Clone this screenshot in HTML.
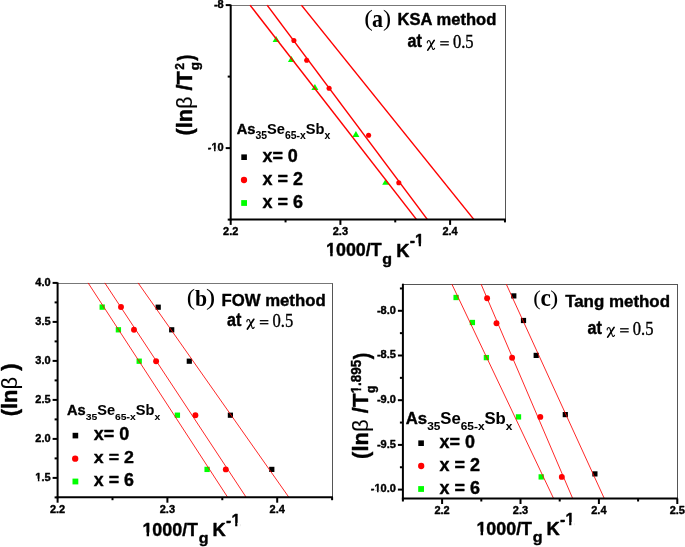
<!DOCTYPE html>
<html><head><meta charset="utf-8"><style>
html,body{margin:0;padding:0;background:#fff;overflow:hidden;}
svg{display:block}
</style></head><body>
<svg width="685" height="547" viewBox="0 0 685 547" style="will-change:transform">
<rect width="685" height="547" fill="#fff"/>
<line x1="230.70" y1="5.50" x2="506.00" y2="5.50" stroke="#777" stroke-width="1"/>
<line x1="505.50" y1="5.50" x2="505.50" y2="219.40" stroke="#555" stroke-width="1"/>
<polygon points="276.10,35.90 279.60,41.90 272.60,41.90" fill="#00ff00"/>
<polygon points="291.40,55.90 294.90,61.90 287.90,61.90" fill="#00ff00"/>
<polygon points="314.90,84.10 318.40,90.10 311.40,90.10" fill="#00ff00"/>
<polygon points="355.90,131.00 359.40,137.00 352.40,137.00" fill="#00ff00"/>
<polygon points="385.70,178.80 389.20,184.80 382.20,184.80" fill="#00ff00"/>
<circle cx="293.90" cy="40.50" r="2.55" fill="#ff0000"/>
<circle cx="306.70" cy="60.30" r="2.55" fill="#ff0000"/>
<circle cx="329.10" cy="88.20" r="2.55" fill="#ff0000"/>
<circle cx="368.60" cy="135.30" r="2.55" fill="#ff0000"/>
<circle cx="398.80" cy="182.80" r="2.55" fill="#ff0000"/>
<line x1="250.00" y1="5.10" x2="416.40" y2="219.40" stroke="#ff0000" stroke-width="1.5"/>
<line x1="267.10" y1="5.10" x2="427.30" y2="219.40" stroke="#ff0000" stroke-width="1.5"/>
<line x1="301.40" y1="5.10" x2="473.80" y2="219.40" stroke="#ff0000" stroke-width="1.5"/>
<line x1="230.70" y1="219.40" x2="230.70" y2="224.90" stroke="#000000" stroke-width="2"/>
<line x1="285.55" y1="219.40" x2="285.55" y2="222.40" stroke="#000000" stroke-width="2"/>
<line x1="340.40" y1="219.40" x2="340.40" y2="224.90" stroke="#000000" stroke-width="2"/>
<line x1="395.25" y1="219.40" x2="395.25" y2="222.40" stroke="#000000" stroke-width="2"/>
<line x1="450.10" y1="219.40" x2="450.10" y2="224.90" stroke="#000000" stroke-width="2"/>
<line x1="504.95" y1="219.40" x2="504.95" y2="222.40" stroke="#000000" stroke-width="2"/>
<line x1="230.70" y1="5.10" x2="225.70" y2="5.10" stroke="#000000" stroke-width="2"/>
<line x1="230.70" y1="76.60" x2="227.70" y2="76.60" stroke="#000000" stroke-width="2"/>
<line x1="230.70" y1="148.10" x2="225.70" y2="148.10" stroke="#000000" stroke-width="2"/>
<line x1="230.70" y1="219.60" x2="227.70" y2="219.60" stroke="#000000" stroke-width="2"/>
<line x1="230.70" y1="4.60" x2="230.70" y2="220.40" stroke="#000000" stroke-width="2"/>
<line x1="229.70" y1="219.40" x2="505.80" y2="219.40" stroke="#000000" stroke-width="2"/>
<g transform="translate(223.05,235.40) scale(0.1100)"><text font-size="100" font-family="Liberation Sans" font-weight="bold" stroke="#000" stroke-width="0.4" vector-effect="non-scaling-stroke" stroke-linejoin="round">2.2</text></g>
<g transform="translate(332.75,235.40) scale(0.1100)"><text font-size="100" font-family="Liberation Sans" font-weight="bold" stroke="#000" stroke-width="0.4" vector-effect="non-scaling-stroke" stroke-linejoin="round">2.3</text></g>
<g transform="translate(442.45,235.40) scale(0.1100)"><text font-size="100" font-family="Liberation Sans" font-weight="bold" stroke="#000" stroke-width="0.4" vector-effect="non-scaling-stroke" stroke-linejoin="round">2.4</text></g>
<g transform="translate(213.92,7.90) scale(0.1100)"><text font-size="100" font-family="Liberation Sans" font-weight="bold" stroke="#000" stroke-width="0.4" vector-effect="non-scaling-stroke" stroke-linejoin="round">-8</text></g>
<g transform="translate(207.80,150.90) scale(0.1100)"><text font-size="100" font-family="Liberation Sans" font-weight="bold" stroke="#000" stroke-width="0.4" vector-effect="non-scaling-stroke" stroke-linejoin="round">-10</text><rect x="25.30" y="-18" width="31.34" height="29" fill="#fff"/><rect x="70.36" y="-18" width="19.94" height="29" fill="#fff"/></g>
<g transform="translate(364.269,26.257) scale(0.25769,0.22111)"><text font-size="100" font-family="Liberation Serif">(</text></g>
<g transform="translate(372.040,26.652) scale(0.22000,0.24792)"><text font-size="100" font-family="Liberation Serif" font-weight="bold">a</text></g>
<g transform="translate(382.973,26.257) scale(0.24231,0.22111)"><text font-size="100" font-family="Liberation Serif">)</text></g>
<g transform="translate(397.540,24.739) scale(0.16569,0.16081)"><text font-size="100" font-family="Liberation Sans" font-weight="bold" stroke="#000" stroke-width="0.4" vector-effect="non-scaling-stroke" stroke-linejoin="round">KSA method</text></g>
<g transform="translate(407.516,46.924) scale(0.16118,0.17576)"><text font-size="100" font-family="Liberation Sans" font-weight="bold" stroke="#000" stroke-width="0.4" vector-effect="non-scaling-stroke" stroke-linejoin="round">at</text></g>
<g transform="translate(0.00,0.00)" fill="none" stroke="#000" stroke-linecap="round"><path d="M427.3,42.9 C427.0,41.0 428.6,39.9 429.8,41.1 L432.6,48.9 C433.0,49.9 434.0,49.6 434.6,48.3" stroke-width="1.1"/><path d="M434.2,40.4 L427.8,50.1" stroke-width="1.7"/></g>
<rect x="440.20" y="41.15" width="8.6" height="1.3" fill="#000"/>
<rect x="440.20" y="44.15" width="8.6" height="1.3" fill="#000"/>
<g transform="translate(452.937,47.644) scale(0.16581,0.17794)"><text font-size="100" font-family="Liberation Serif" stroke="#000" stroke-width="0.35" vector-effect="non-scaling-stroke">0.5</text></g>
<g transform="translate(236.760,134.148) scale(0.14661,0.14312)"><text font-size="100" font-family="Liberation Sans" font-weight="bold" stroke="#000" stroke-width="0.4" vector-effect="non-scaling-stroke" stroke-linejoin="round">As<tspan font-size="71" dy="36">35</tspan><tspan dy="-36">Se</tspan><tspan font-size="71" dy="36">65-x</tspan><tspan dy="-36">Sb</tspan><tspan font-size="71" dy="36">x</tspan></text></g>
<g transform="translate(262.420,161.811) scale(0.17969,0.18873)"><text font-size="100" font-family="Liberation Sans" font-weight="bold" stroke="#000" stroke-width="0.4" vector-effect="non-scaling-stroke" stroke-linejoin="round">x= 0</text></g>
<rect x="241.30" y="154.40" width="5.6" height="5.6" fill="#000000"/>
<g transform="translate(262.420,184.600) scale(0.18000,0.18143)"><text font-size="100" font-family="Liberation Sans" font-weight="bold" stroke="#000" stroke-width="0.4" vector-effect="non-scaling-stroke" stroke-linejoin="round">x = 2</text></g>
<circle cx="244.00" cy="180.00" r="3.15" fill="#ff0000"/>
<g transform="translate(262.420,207.515) scale(0.18000,0.18451)"><text font-size="100" font-family="Liberation Sans" font-weight="bold" stroke="#000" stroke-width="0.4" vector-effect="non-scaling-stroke" stroke-linejoin="round">x = 6</text></g>
<rect x="241.20" y="200.10" width="5.8" height="5.8" fill="#00ff00"/>
<g transform="translate(326.050,256.319) scale(0.17855,0.18108)"><text font-size="100" font-family="Liberation Sans" font-weight="bold" stroke="#000" stroke-width="0.4" vector-effect="non-scaling-stroke" stroke-linejoin="round">1000/T</text><rect x="-8.00" y="-18" width="31.34" height="29" fill="#fff"/><rect x="37.06" y="-18" width="19.94" height="29" fill="#fff"/></g>
<g transform="translate(382.260,263.552) scale(0.16000,0.15467)"><text font-size="100" font-family="Liberation Sans" font-weight="bold" stroke="#000" stroke-width="0.4" vector-effect="non-scaling-stroke" stroke-linejoin="round">g</text></g>
<g transform="translate(396.220,256.600) scale(0.18281,0.18986)"><text font-size="100" font-family="Liberation Sans" font-weight="bold" stroke="#000" stroke-width="0.4" vector-effect="non-scaling-stroke" stroke-linejoin="round">K</text></g>
<g transform="translate(409.658,246.400) scale(0.16061,0.16377)"><text font-size="100" font-family="Liberation Sans" font-weight="bold" stroke="#000" stroke-width="0.4" vector-effect="non-scaling-stroke" stroke-linejoin="round">-1</text><rect x="25.30" y="-18" width="31.34" height="29" fill="#fff"/><rect x="70.36" y="-18" width="19.94" height="29" fill="#fff"/></g>
<g transform="translate(192.119,135.384) rotate(-90) scale(0.21690,0.22766)"><text font-size="100" font-family="Liberation Sans" font-weight="bold" stroke="#000" stroke-width="0.4" vector-effect="non-scaling-stroke" stroke-linejoin="round">(ln<tspan font-weight="normal">β</tspan> /T</text></g>
<g transform="translate(183.600,69.861) rotate(-90) scale(0.12041,0.12429)"><text font-size="100" font-family="Liberation Sans" font-weight="bold" stroke="#000" stroke-width="0.4" vector-effect="non-scaling-stroke" stroke-linejoin="round">2</text></g>
<g transform="translate(199.112,70.344) rotate(-90) scale(0.13600,0.12800)"><text font-size="100" font-family="Liberation Sans" font-weight="bold" stroke="#000" stroke-width="0.4" vector-effect="non-scaling-stroke" stroke-linejoin="round">g</text></g>
<g transform="translate(192.976,60.800) rotate(-90) scale(0.18214,0.22021)"><text font-size="100" font-family="Liberation Sans" font-weight="bold" stroke="#000" stroke-width="0.4" vector-effect="non-scaling-stroke" stroke-linejoin="round">)</text></g>
<line x1="57.60" y1="283.50" x2="333.00" y2="283.50" stroke="#777" stroke-width="1"/>
<line x1="332.50" y1="283.50" x2="332.50" y2="497.20" stroke="#555" stroke-width="1"/>
<rect x="99.55" y="304.45" width="5.3" height="5.3" fill="#00ff00"/>
<rect x="115.75" y="327.15" width="5.3" height="5.3" fill="#00ff00"/>
<rect x="136.55" y="358.55" width="5.3" height="5.3" fill="#00ff00"/>
<rect x="174.75" y="412.55" width="5.3" height="5.3" fill="#00ff00"/>
<rect x="204.45" y="466.75" width="5.3" height="5.3" fill="#00ff00"/>
<circle cx="121.00" cy="307.00" r="2.95" fill="#ff0000"/>
<circle cx="134.00" cy="329.80" r="2.95" fill="#ff0000"/>
<circle cx="156.10" cy="361.20" r="2.95" fill="#ff0000"/>
<circle cx="195.40" cy="415.20" r="2.95" fill="#ff0000"/>
<circle cx="225.80" cy="469.40" r="2.95" fill="#ff0000"/>
<rect x="155.60" y="304.60" width="5.2" height="5.2" fill="#000000"/>
<rect x="169.10" y="327.20" width="5.2" height="5.2" fill="#000000"/>
<rect x="186.70" y="358.60" width="5.2" height="5.2" fill="#000000"/>
<rect x="227.80" y="412.60" width="5.2" height="5.2" fill="#000000"/>
<rect x="269.20" y="466.80" width="5.2" height="5.2" fill="#000000"/>
<line x1="88.10" y1="282.90" x2="227.60" y2="497.20" stroke="#ff0000" stroke-width="0.85"/>
<line x1="104.80" y1="282.90" x2="246.10" y2="497.20" stroke="#ff0000" stroke-width="0.85"/>
<line x1="138.10" y1="282.90" x2="288.80" y2="497.20" stroke="#ff0000" stroke-width="0.85"/>
<line x1="57.60" y1="497.20" x2="57.60" y2="502.70" stroke="#000000" stroke-width="2"/>
<line x1="112.50" y1="497.20" x2="112.50" y2="500.20" stroke="#000000" stroke-width="2"/>
<line x1="167.40" y1="497.20" x2="167.40" y2="502.70" stroke="#000000" stroke-width="2"/>
<line x1="222.30" y1="497.20" x2="222.30" y2="500.20" stroke="#000000" stroke-width="2"/>
<line x1="277.20" y1="497.20" x2="277.20" y2="502.70" stroke="#000000" stroke-width="2"/>
<line x1="332.10" y1="497.20" x2="332.10" y2="500.20" stroke="#000000" stroke-width="2"/>
<line x1="57.60" y1="282.90" x2="52.60" y2="282.90" stroke="#000000" stroke-width="2"/>
<line x1="57.60" y1="302.40" x2="54.60" y2="302.40" stroke="#000000" stroke-width="2"/>
<line x1="57.60" y1="321.90" x2="52.60" y2="321.90" stroke="#000000" stroke-width="2"/>
<line x1="57.60" y1="341.40" x2="54.60" y2="341.40" stroke="#000000" stroke-width="2"/>
<line x1="57.60" y1="360.90" x2="52.60" y2="360.90" stroke="#000000" stroke-width="2"/>
<line x1="57.60" y1="380.40" x2="54.60" y2="380.40" stroke="#000000" stroke-width="2"/>
<line x1="57.60" y1="399.90" x2="52.60" y2="399.90" stroke="#000000" stroke-width="2"/>
<line x1="57.60" y1="419.40" x2="54.60" y2="419.40" stroke="#000000" stroke-width="2"/>
<line x1="57.60" y1="438.90" x2="52.60" y2="438.90" stroke="#000000" stroke-width="2"/>
<line x1="57.60" y1="458.40" x2="54.60" y2="458.40" stroke="#000000" stroke-width="2"/>
<line x1="57.60" y1="477.90" x2="52.60" y2="477.90" stroke="#000000" stroke-width="2"/>
<line x1="57.60" y1="497.40" x2="54.60" y2="497.40" stroke="#000000" stroke-width="2"/>
<line x1="57.60" y1="282.40" x2="57.60" y2="498.20" stroke="#000000" stroke-width="2"/>
<line x1="56.60" y1="497.20" x2="332.90" y2="497.20" stroke="#000000" stroke-width="2"/>
<g transform="translate(49.95,513.20) scale(0.1100)"><text font-size="100" font-family="Liberation Sans" font-weight="bold" stroke="#000" stroke-width="0.4" vector-effect="non-scaling-stroke" stroke-linejoin="round">2.2</text></g>
<g transform="translate(159.75,513.20) scale(0.1100)"><text font-size="100" font-family="Liberation Sans" font-weight="bold" stroke="#000" stroke-width="0.4" vector-effect="non-scaling-stroke" stroke-linejoin="round">2.3</text></g>
<g transform="translate(269.55,513.20) scale(0.1100)"><text font-size="100" font-family="Liberation Sans" font-weight="bold" stroke="#000" stroke-width="0.4" vector-effect="non-scaling-stroke" stroke-linejoin="round">2.4</text></g>
<g transform="translate(35.31,285.70) scale(0.1100)"><text font-size="100" font-family="Liberation Sans" font-weight="bold" stroke="#000" stroke-width="0.4" vector-effect="non-scaling-stroke" stroke-linejoin="round">4.0</text></g>
<g transform="translate(35.31,324.70) scale(0.1100)"><text font-size="100" font-family="Liberation Sans" font-weight="bold" stroke="#000" stroke-width="0.4" vector-effect="non-scaling-stroke" stroke-linejoin="round">3.5</text></g>
<g transform="translate(35.31,363.70) scale(0.1100)"><text font-size="100" font-family="Liberation Sans" font-weight="bold" stroke="#000" stroke-width="0.4" vector-effect="non-scaling-stroke" stroke-linejoin="round">3.0</text></g>
<g transform="translate(35.31,402.70) scale(0.1100)"><text font-size="100" font-family="Liberation Sans" font-weight="bold" stroke="#000" stroke-width="0.4" vector-effect="non-scaling-stroke" stroke-linejoin="round">2.5</text></g>
<g transform="translate(35.31,441.70) scale(0.1100)"><text font-size="100" font-family="Liberation Sans" font-weight="bold" stroke="#000" stroke-width="0.4" vector-effect="non-scaling-stroke" stroke-linejoin="round">2.0</text></g>
<g transform="translate(35.31,480.70) scale(0.1100)"><text font-size="100" font-family="Liberation Sans" font-weight="bold" stroke="#000" stroke-width="0.4" vector-effect="non-scaling-stroke" stroke-linejoin="round">1.5</text><rect x="-8.00" y="-18" width="31.34" height="29" fill="#fff"/><rect x="37.06" y="-18" width="19.94" height="29" fill="#fff"/></g>
<g transform="translate(186.700,305.410) scale(0.25000,0.22333)"><text font-size="100" font-family="Liberation Serif">(</text></g>
<g transform="translate(194.982,306.377) scale(0.21765,0.22286)"><text font-size="100" font-family="Liberation Serif" font-weight="bold">b</text></g>
<g transform="translate(205.969,305.410) scale(0.27692,0.22333)"><text font-size="100" font-family="Liberation Serif">)</text></g>
<g transform="translate(221.426,305.627) scale(0.16776,0.17297)"><text font-size="100" font-family="Liberation Sans" font-weight="bold" stroke="#000" stroke-width="0.4" vector-effect="non-scaling-stroke" stroke-linejoin="round">FOW method</text></g>
<g transform="translate(227.116,325.824) scale(0.16118,0.17576)"><text font-size="100" font-family="Liberation Sans" font-weight="bold" stroke="#000" stroke-width="0.4" vector-effect="non-scaling-stroke" stroke-linejoin="round">at</text></g>
<g transform="translate(-180.40,278.90)" fill="none" stroke="#000" stroke-linecap="round"><path d="M427.3,42.9 C427.0,41.0 428.6,39.9 429.8,41.1 L432.6,48.9 C433.0,49.9 434.0,49.6 434.6,48.3" stroke-width="1.1"/><path d="M434.2,40.4 L427.8,50.1" stroke-width="1.7"/></g>
<rect x="259.80" y="320.05" width="8.6" height="1.3" fill="#000"/>
<rect x="259.80" y="323.05" width="8.6" height="1.3" fill="#000"/>
<g transform="translate(272.537,326.544) scale(0.16581,0.17794)"><text font-size="100" font-family="Liberation Serif" stroke="#000" stroke-width="0.35" vector-effect="non-scaling-stroke">0.5</text></g>
<g transform="translate(66.962,415.446) scale(0.14614,0.13761)"><text font-size="100" font-family="Liberation Sans" font-weight="bold" stroke="#000" stroke-width="0.4" vector-effect="non-scaling-stroke" stroke-linejoin="round">As<tspan font-size="71" dy="36">35</tspan><tspan dy="-36">Se</tspan><tspan font-size="71" dy="36">65-x</tspan><tspan dy="-36">Sb</tspan><tspan font-size="71" dy="36">x</tspan></text></g>
<g transform="translate(93.820,439.825) scale(0.17969,0.17465)"><text font-size="100" font-family="Liberation Sans" font-weight="bold" stroke="#000" stroke-width="0.4" vector-effect="non-scaling-stroke" stroke-linejoin="round">x= 0</text></g>
<rect x="72.60" y="432.80" width="5.6" height="5.6" fill="#000000"/>
<g transform="translate(93.822,462.600) scale(0.17818,0.16714)"><text font-size="100" font-family="Liberation Sans" font-weight="bold" stroke="#000" stroke-width="0.4" vector-effect="non-scaling-stroke" stroke-linejoin="round">x = 2</text></g>
<circle cx="75.20" cy="458.70" r="3.15" fill="#ff0000"/>
<g transform="translate(93.822,485.821) scale(0.17818,0.17887)"><text font-size="100" font-family="Liberation Sans" font-weight="bold" stroke="#000" stroke-width="0.4" vector-effect="non-scaling-stroke" stroke-linejoin="round">x = 6</text></g>
<rect x="72.50" y="478.60" width="5.8" height="5.8" fill="#00ff00"/>
<g transform="translate(142.450,535.719) scale(0.17855,0.18108)"><text font-size="100" font-family="Liberation Sans" font-weight="bold" stroke="#000" stroke-width="0.4" vector-effect="non-scaling-stroke" stroke-linejoin="round">1000/T</text><rect x="-8.00" y="-18" width="31.34" height="29" fill="#fff"/><rect x="37.06" y="-18" width="19.94" height="29" fill="#fff"/></g>
<g transform="translate(198.660,542.952) scale(0.16000,0.15467)"><text font-size="100" font-family="Liberation Sans" font-weight="bold" stroke="#000" stroke-width="0.4" vector-effect="non-scaling-stroke" stroke-linejoin="round">g</text></g>
<g transform="translate(212.620,536.000) scale(0.18281,0.18986)"><text font-size="100" font-family="Liberation Sans" font-weight="bold" stroke="#000" stroke-width="0.4" vector-effect="non-scaling-stroke" stroke-linejoin="round">K</text></g>
<g transform="translate(226.058,525.800) scale(0.16061,0.16377)"><text font-size="100" font-family="Liberation Sans" font-weight="bold" stroke="#000" stroke-width="0.4" vector-effect="non-scaling-stroke" stroke-linejoin="round">-1</text><rect x="25.30" y="-18" width="31.34" height="29" fill="#fff"/><rect x="70.36" y="-18" width="19.94" height="29" fill="#fff"/></g>
<g transform="translate(16.620,416.295) rotate(-90) scale(0.21905,0.21809)"><text font-size="100" font-family="Liberation Sans" font-weight="bold" stroke="#000" stroke-width="0.4" vector-effect="non-scaling-stroke" stroke-linejoin="round">(ln<tspan font-weight="normal">β</tspan> )</text></g>
<line x1="402.90" y1="284.50" x2="678.00" y2="284.50" stroke="#555" stroke-width="1"/>
<line x1="677.50" y1="284.50" x2="677.50" y2="498.50" stroke="#555" stroke-width="1"/>
<rect x="453.45" y="294.85" width="5.3" height="5.3" fill="#00ff00"/>
<rect x="469.75" y="319.85" width="5.3" height="5.3" fill="#00ff00"/>
<rect x="483.75" y="354.95" width="5.3" height="5.3" fill="#00ff00"/>
<rect x="515.85" y="414.25" width="5.3" height="5.3" fill="#00ff00"/>
<rect x="538.55" y="474.25" width="5.3" height="5.3" fill="#00ff00"/>
<circle cx="487.10" cy="298.20" r="2.95" fill="#ff0000"/>
<circle cx="496.50" cy="323.20" r="2.95" fill="#ff0000"/>
<circle cx="512.10" cy="357.80" r="2.95" fill="#ff0000"/>
<circle cx="540.30" cy="416.90" r="2.95" fill="#ff0000"/>
<circle cx="561.80" cy="476.90" r="2.95" fill="#ff0000"/>
<rect x="511.20" y="293.30" width="5.2" height="5.2" fill="#000000"/>
<rect x="520.90" y="317.90" width="5.2" height="5.2" fill="#000000"/>
<rect x="533.60" y="352.80" width="5.2" height="5.2" fill="#000000"/>
<rect x="562.70" y="412.00" width="5.2" height="5.2" fill="#000000"/>
<rect x="592.30" y="471.30" width="5.2" height="5.2" fill="#000000"/>
<line x1="451.90" y1="284.20" x2="553.60" y2="498.50" stroke="#ff0000" stroke-width="0.85"/>
<line x1="481.10" y1="284.20" x2="572.70" y2="498.50" stroke="#ff0000" stroke-width="0.85"/>
<line x1="506.30" y1="284.20" x2="604.30" y2="498.50" stroke="#ff0000" stroke-width="0.85"/>
<line x1="402.90" y1="498.50" x2="402.90" y2="501.50" stroke="#000000" stroke-width="2"/>
<line x1="442.10" y1="498.50" x2="442.10" y2="504.00" stroke="#000000" stroke-width="2"/>
<line x1="481.30" y1="498.50" x2="481.30" y2="501.50" stroke="#000000" stroke-width="2"/>
<line x1="520.50" y1="498.50" x2="520.50" y2="504.00" stroke="#000000" stroke-width="2"/>
<line x1="559.70" y1="498.50" x2="559.70" y2="501.50" stroke="#000000" stroke-width="2"/>
<line x1="598.90" y1="498.50" x2="598.90" y2="504.00" stroke="#000000" stroke-width="2"/>
<line x1="638.10" y1="498.50" x2="638.10" y2="501.50" stroke="#000000" stroke-width="2"/>
<line x1="677.30" y1="498.50" x2="677.30" y2="504.00" stroke="#000000" stroke-width="2"/>
<line x1="402.90" y1="288.45" x2="399.90" y2="288.45" stroke="#000000" stroke-width="2"/>
<line x1="402.90" y1="310.80" x2="397.90" y2="310.80" stroke="#000000" stroke-width="2"/>
<line x1="402.90" y1="333.15" x2="399.90" y2="333.15" stroke="#000000" stroke-width="2"/>
<line x1="402.90" y1="355.50" x2="397.90" y2="355.50" stroke="#000000" stroke-width="2"/>
<line x1="402.90" y1="377.85" x2="399.90" y2="377.85" stroke="#000000" stroke-width="2"/>
<line x1="402.90" y1="400.20" x2="397.90" y2="400.20" stroke="#000000" stroke-width="2"/>
<line x1="402.90" y1="422.55" x2="399.90" y2="422.55" stroke="#000000" stroke-width="2"/>
<line x1="402.90" y1="444.90" x2="397.90" y2="444.90" stroke="#000000" stroke-width="2"/>
<line x1="402.90" y1="467.25" x2="399.90" y2="467.25" stroke="#000000" stroke-width="2"/>
<line x1="402.90" y1="489.60" x2="397.90" y2="489.60" stroke="#000000" stroke-width="2"/>
<line x1="402.90" y1="283.70" x2="402.90" y2="499.50" stroke="#000000" stroke-width="2"/>
<line x1="401.90" y1="498.50" x2="677.80" y2="498.50" stroke="#000000" stroke-width="2"/>
<g transform="translate(434.45,513.70) scale(0.1100)"><text font-size="100" font-family="Liberation Sans" font-weight="bold" stroke="#000" stroke-width="0.4" vector-effect="non-scaling-stroke" stroke-linejoin="round">2.2</text></g>
<g transform="translate(512.85,513.70) scale(0.1100)"><text font-size="100" font-family="Liberation Sans" font-weight="bold" stroke="#000" stroke-width="0.4" vector-effect="non-scaling-stroke" stroke-linejoin="round">2.3</text></g>
<g transform="translate(591.25,513.70) scale(0.1100)"><text font-size="100" font-family="Liberation Sans" font-weight="bold" stroke="#000" stroke-width="0.4" vector-effect="non-scaling-stroke" stroke-linejoin="round">2.4</text></g>
<g transform="translate(669.65,513.70) scale(0.1100)"><text font-size="100" font-family="Liberation Sans" font-weight="bold" stroke="#000" stroke-width="0.4" vector-effect="non-scaling-stroke" stroke-linejoin="round">2.5</text></g>
<g transform="translate(376.95,313.60) scale(0.1100)"><text font-size="100" font-family="Liberation Sans" font-weight="bold" stroke="#000" stroke-width="0.4" vector-effect="non-scaling-stroke" stroke-linejoin="round">-8.0</text></g>
<g transform="translate(376.95,358.30) scale(0.1100)"><text font-size="100" font-family="Liberation Sans" font-weight="bold" stroke="#000" stroke-width="0.4" vector-effect="non-scaling-stroke" stroke-linejoin="round">-8.5</text></g>
<g transform="translate(376.95,403.00) scale(0.1100)"><text font-size="100" font-family="Liberation Sans" font-weight="bold" stroke="#000" stroke-width="0.4" vector-effect="non-scaling-stroke" stroke-linejoin="round">-9.0</text></g>
<g transform="translate(376.95,447.70) scale(0.1100)"><text font-size="100" font-family="Liberation Sans" font-weight="bold" stroke="#000" stroke-width="0.4" vector-effect="non-scaling-stroke" stroke-linejoin="round">-9.5</text></g>
<g transform="translate(370.83,492.40) scale(0.1100)"><text font-size="100" font-family="Liberation Sans" font-weight="bold" stroke="#000" stroke-width="0.4" vector-effect="non-scaling-stroke" stroke-linejoin="round">-10.0</text><rect x="25.30" y="-18" width="31.34" height="29" fill="#fff"/><rect x="70.36" y="-18" width="19.94" height="29" fill="#fff"/></g>
<g transform="translate(533.192,305.367) scale(0.22692,0.21111)"><text font-size="100" font-family="Liberation Serif">(</text></g>
<g transform="translate(540.500,306.458) scale(0.23333,0.24167)"><text font-size="100" font-family="Liberation Serif" font-weight="bold">c</text></g>
<g transform="translate(550.285,305.367) scale(0.23846,0.21111)"><text font-size="100" font-family="Liberation Serif">)</text></g>
<g transform="translate(565.131,306.581) scale(0.16917,0.17234)"><text font-size="100" font-family="Liberation Sans" font-weight="bold" stroke="#000" stroke-width="0.4" vector-effect="non-scaling-stroke" stroke-linejoin="round">Tang method</text></g>
<g transform="translate(587.416,333.924) scale(0.16118,0.17576)"><text font-size="100" font-family="Liberation Sans" font-weight="bold" stroke="#000" stroke-width="0.4" vector-effect="non-scaling-stroke" stroke-linejoin="round">at</text></g>
<g transform="translate(179.90,287.00)" fill="none" stroke="#000" stroke-linecap="round"><path d="M427.3,42.9 C427.0,41.0 428.6,39.9 429.8,41.1 L432.6,48.9 C433.0,49.9 434.0,49.6 434.6,48.3" stroke-width="1.1"/><path d="M434.2,40.4 L427.8,50.1" stroke-width="1.7"/></g>
<rect x="620.10" y="328.15" width="8.6" height="1.3" fill="#000"/>
<rect x="620.10" y="331.15" width="8.6" height="1.3" fill="#000"/>
<g transform="translate(632.837,334.644) scale(0.16581,0.17794)"><text font-size="100" font-family="Liberation Serif" stroke="#000" stroke-width="0.35" vector-effect="non-scaling-stroke">0.5</text></g>
<g transform="translate(405.799,423.788) scale(0.16709,0.16422)"><text font-size="100" font-family="Liberation Sans" font-weight="bold" stroke="#000" stroke-width="0.4" vector-effect="non-scaling-stroke" stroke-linejoin="round">As<tspan font-size="71" dy="36">35</tspan><tspan dy="-36">Se</tspan><tspan font-size="71" dy="36">65-x</tspan><tspan dy="-36">Sb</tspan><tspan font-size="71" dy="36">x</tspan></text></g>
<g transform="translate(439.420,447.820) scale(0.17969,0.18028)"><text font-size="100" font-family="Liberation Sans" font-weight="bold" stroke="#000" stroke-width="0.4" vector-effect="non-scaling-stroke" stroke-linejoin="round">x= 0</text></g>
<rect x="418.30" y="440.40" width="5.6" height="5.6" fill="#000000"/>
<g transform="translate(439.420,470.600) scale(0.18000,0.18143)"><text font-size="100" font-family="Liberation Sans" font-weight="bold" stroke="#000" stroke-width="0.4" vector-effect="non-scaling-stroke" stroke-linejoin="round">x = 2</text></g>
<circle cx="421.20" cy="466.00" r="3.15" fill="#ff0000"/>
<g transform="translate(439.420,493.515) scale(0.18000,0.18451)"><text font-size="100" font-family="Liberation Sans" font-weight="bold" stroke="#000" stroke-width="0.4" vector-effect="non-scaling-stroke" stroke-linejoin="round">x = 6</text></g>
<rect x="418.20" y="486.10" width="5.8" height="5.8" fill="#00ff00"/>
<g transform="translate(476.450,534.919) scale(0.17855,0.18108)"><text font-size="100" font-family="Liberation Sans" font-weight="bold" stroke="#000" stroke-width="0.4" vector-effect="non-scaling-stroke" stroke-linejoin="round">1000/T</text><rect x="-8.00" y="-18" width="31.34" height="29" fill="#fff"/><rect x="37.06" y="-18" width="19.94" height="29" fill="#fff"/></g>
<g transform="translate(532.660,542.152) scale(0.16000,0.15467)"><text font-size="100" font-family="Liberation Sans" font-weight="bold" stroke="#000" stroke-width="0.4" vector-effect="non-scaling-stroke" stroke-linejoin="round">g</text></g>
<g transform="translate(546.620,535.200) scale(0.18281,0.18986)"><text font-size="100" font-family="Liberation Sans" font-weight="bold" stroke="#000" stroke-width="0.4" vector-effect="non-scaling-stroke" stroke-linejoin="round">K</text></g>
<g transform="translate(560.058,525.000) scale(0.16061,0.16377)"><text font-size="100" font-family="Liberation Sans" font-weight="bold" stroke="#000" stroke-width="0.4" vector-effect="non-scaling-stroke" stroke-linejoin="round">-1</text><rect x="25.30" y="-18" width="31.34" height="29" fill="#fff"/><rect x="70.36" y="-18" width="19.94" height="29" fill="#fff"/></g>
<g transform="translate(367.819,458.902) rotate(-90) scale(0.22034,0.22766)"><text font-size="100" font-family="Liberation Sans" font-weight="bold" stroke="#000" stroke-width="0.4" vector-effect="non-scaling-stroke" stroke-linejoin="round">(ln<tspan font-weight="normal">β</tspan> /T</text></g>
<g transform="translate(360.658,393.544) rotate(-90) scale(0.13485,0.14225)"><text font-size="100" font-family="Liberation Sans" font-weight="bold" stroke="#000" stroke-width="0.4" vector-effect="non-scaling-stroke" stroke-linejoin="round">1.895</text><rect x="-8.00" y="-18" width="31.34" height="29" fill="#fff"/><rect x="37.06" y="-18" width="19.94" height="29" fill="#fff"/></g>
<g transform="translate(374.512,393.080) rotate(-90) scale(0.12000,0.12800)"><text font-size="100" font-family="Liberation Sans" font-weight="bold" stroke="#000" stroke-width="0.4" vector-effect="non-scaling-stroke" stroke-linejoin="round">g</text></g>
<g transform="translate(369.386,359.200) rotate(-90) scale(0.19643,0.22447)"><text font-size="100" font-family="Liberation Sans" font-weight="bold" stroke="#000" stroke-width="0.4" vector-effect="non-scaling-stroke" stroke-linejoin="round">)</text></g>
</svg>
</body></html>
